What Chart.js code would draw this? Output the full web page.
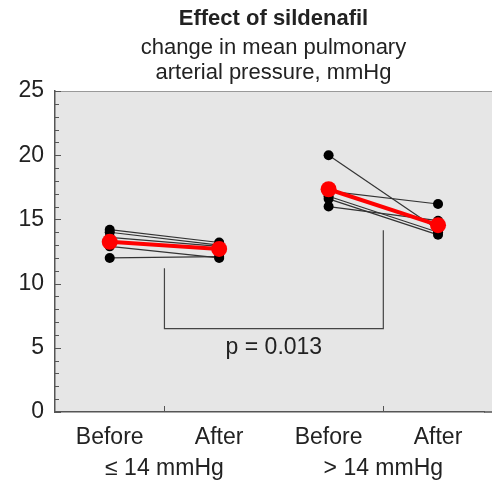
<!DOCTYPE html>
<html>
<head>
<meta charset="utf-8">
<script src="https://cdn.jsdelivr.net/npm/chart.js@4/dist/chart.umd.min.js"></script>
<style>
  body { margin: 0; background: #fff; }
  canvas { display: block; }
</style>
</head>
<body>
<canvas id="grafico" width="492" height="485"></canvas>
<script>
// posições das categorias no eixo x
const posicoes    = [1, 2, 3, 4];
const rotulosX    = ['Before', 'After', 'Before', 'After'];
const posGrupos   = [1.5, 3.5];
const rotulosGrupo = ['≤ 14 mmHg', '> 14 mmHg'];

// pacientes com PAPm <= 14 (antes / depois)
const baixoAntes  = [14.2, 14.0, 13.6, 12.9, 12.0];
const baixoDepois = [13.2, 13.0, 12.9, 12.0, 12.1];

// pacientes com PAPm > 14 (antes / depois)
const altoAntes   = [20.0, 17.2, 16.8, 16.6, 16.0];
const altoDepois  = [14.2, 16.2, 14.0, 13.8, 14.9];

// médias (vermelho)
const mediaBaixo  = [13.25, 12.7];
const mediaAlto   = [17.35, 14.55];

// colchete de comparação: topo esquerdo, base, topo direito
const colchete    = [11.2, 6.5, 14.15];
const textoP      = 'p = 0.013';
const valorTextoP = 5.0;

const titulo      = 'Effect of sildenafil';
const subtitulo   = ['change in mean pulmonary', 'arterial pressure, mmHg'];

const datasets = [];

// médias em cima de tudo
[[mediaBaixo, 0], [mediaAlto, 2]].forEach(([m, off]) => {
  datasets.push({
    data: [{ x: posicoes[off], y: m[0] }, { x: posicoes[off + 1], y: m[1] }],
    showLine: true,
    borderColor: '#ff0000',
    borderWidth: 4,
    pointRadius: 8,
    pointBackgroundColor: '#ff0000',
    pointBorderWidth: 0,
    order: 0
  });
});

// linhas individuais
function addPacientes(antes, depois, off) {
  antes.forEach((v, i) => {
    datasets.push({
      data: [{ x: posicoes[off], y: v }, { x: posicoes[off + 1], y: depois[i] }],
      showLine: true,
      borderColor: '#333',
      borderWidth: 1.2,
      pointRadius: 5,
      pointBackgroundColor: '#000',
      pointBorderWidth: 0,
      order: 1
    });
  });
}
addPacientes(baixoAntes, baixoDepois, 0);
addPacientes(altoAntes, altoDepois, 2);

// ticks do eixo x: categorias + centro dos grupos
const ticksX = posicoes.concat(posGrupos).sort((a, b) => a - b);
function rotuloX(v) {
  const i = posicoes.indexOf(v);
  if (i >= 0) return rotulosX[i];
  const g = posGrupos.indexOf(v);
  return g >= 0 ? ['', rotulosGrupo[g]] : '';
}

const pluginDesenho = {
  id: 'desenho',
  beforeDraw(chart) {
    const { ctx, chartArea: a } = chart;
    ctx.save();
    // fundo cinza vai até a borda direita da imagem
    ctx.fillStyle = '#e6e6e6';
    ctx.fillRect(a.left, a.top, chart.width - a.left, a.bottom - a.top);
    ctx.restore();
  },
  afterDatasetsDraw(chart) {
    const { ctx, chartArea: a, scales: { x, y } } = chart;
    ctx.save();

    // borda superior
    ctx.strokeStyle = '#999';
    ctx.lineWidth = 1;
    ctx.beginPath();
    ctx.moveTo(a.left, a.top + 0.5);
    ctx.lineTo(chart.width, a.top + 0.5);
    ctx.stroke();

    // ticks menores do eixo y (para dentro)
    ctx.strokeStyle = '#555';
    for (let v = y.min; v <= y.max; v++) {
      const py = Math.round(y.getPixelForValue(v)) + 0.5;
      const len = v % 5 === 0 ? 6 : 4;
      ctx.beginPath();
      ctx.moveTo(a.left, py);
      ctx.lineTo(a.left + len, py);
      ctx.stroke();
    }
    // ticks do eixo x nos centros dos grupos
    posGrupos.forEach(g => {
      const px = Math.round(x.getPixelForValue(g)) + 0.5;
      ctx.beginPath();
      ctx.moveTo(px, a.bottom);
      ctx.lineTo(px, a.bottom - 6);
      ctx.stroke();
    });

    // colchete
    ctx.strokeStyle = '#444';
    ctx.lineWidth = 1.2;
    ctx.beginPath();
    ctx.moveTo(x.getPixelForValue(posGrupos[0]), y.getPixelForValue(colchete[0]));
    ctx.lineTo(x.getPixelForValue(posGrupos[0]), y.getPixelForValue(colchete[1]));
    ctx.lineTo(x.getPixelForValue(posGrupos[1]), y.getPixelForValue(colchete[1]));
    ctx.lineTo(x.getPixelForValue(posGrupos[1]), y.getPixelForValue(colchete[2]));
    ctx.stroke();

    ctx.fillStyle = '#222';
    ctx.font = '23px "Liberation Sans", Arial, sans-serif';
    ctx.textAlign = 'center';
    ctx.textBaseline = 'middle';
    ctx.fillText(textoP, x.getPixelForValue((posGrupos[0] + posGrupos[1]) / 2), y.getPixelForValue(valorTextoP));

    // título
    const cx = (a.left + chart.width) / 2;
    ctx.font = 'bold 22px "Liberation Sans", Arial, sans-serif';
    ctx.fillText(titulo, cx, 19);
    ctx.font = '22px "Liberation Sans", Arial, sans-serif';
    subtitulo.forEach((t, i) => ctx.fillText(t, cx, 47.5 + i * 25));
    ctx.restore();
  },
  afterDraw(chart) {
    // eixo inferior também até a borda
    const { ctx, chartArea: a } = chart;
    ctx.save();
    ctx.strokeStyle = '#555';
    ctx.lineWidth = 1.5;
    ctx.beginPath();
    ctx.moveTo(a.right, a.bottom);
    ctx.lineTo(chart.width, a.bottom);
    ctx.stroke();
    ctx.restore();
  }
};

new Chart(document.getElementById('grafico'), {
  type: 'scatter',
  data: { datasets },
  plugins: [pluginDesenho],
  options: {
    responsive: false,
    animation: false,
    layout: { padding: { top: 91, right: 1, left: 0, bottom: 0 } },
    plugins: {
      legend: { display: false },
      tooltip: { enabled: false }
    },
    scales: {
      x: {
        type: 'linear',
        min: 0.5,
        max: 4.42,
        afterBuildTicks: s => { s.ticks = ticksX.map(v => ({ value: v })); },
        afterFit: s => { s.height = 73; s.paddingLeft = 0; s.paddingRight = 0; },
        grid: { display: false, drawTicks: false },
        border: { display: true, color: '#555', width: 1.5 },
        ticks: {
          autoSkip: false,
          maxRotation: 0,
          minRotation: 0,
          padding: 10,
          color: '#222',
          font: { size: 23, family: '"Liberation Sans", Arial, sans-serif', lineHeight: 1.35 },
          callback: v => rotuloX(v)
        }
      },
      y: {
        min: 0,
        max: 25,
        afterFit: s => { s.width = 55; },
        grid: { display: false, drawTicks: false },
        border: { display: true, color: '#555', width: 1.5 },
        ticks: {
          stepSize: 5,
          padding: 11,
          color: '#222',
          font: { size: 23, family: '"Liberation Sans", Arial, sans-serif' }
        }
      }
    }
  }
});
</script>
</body>
</html>
